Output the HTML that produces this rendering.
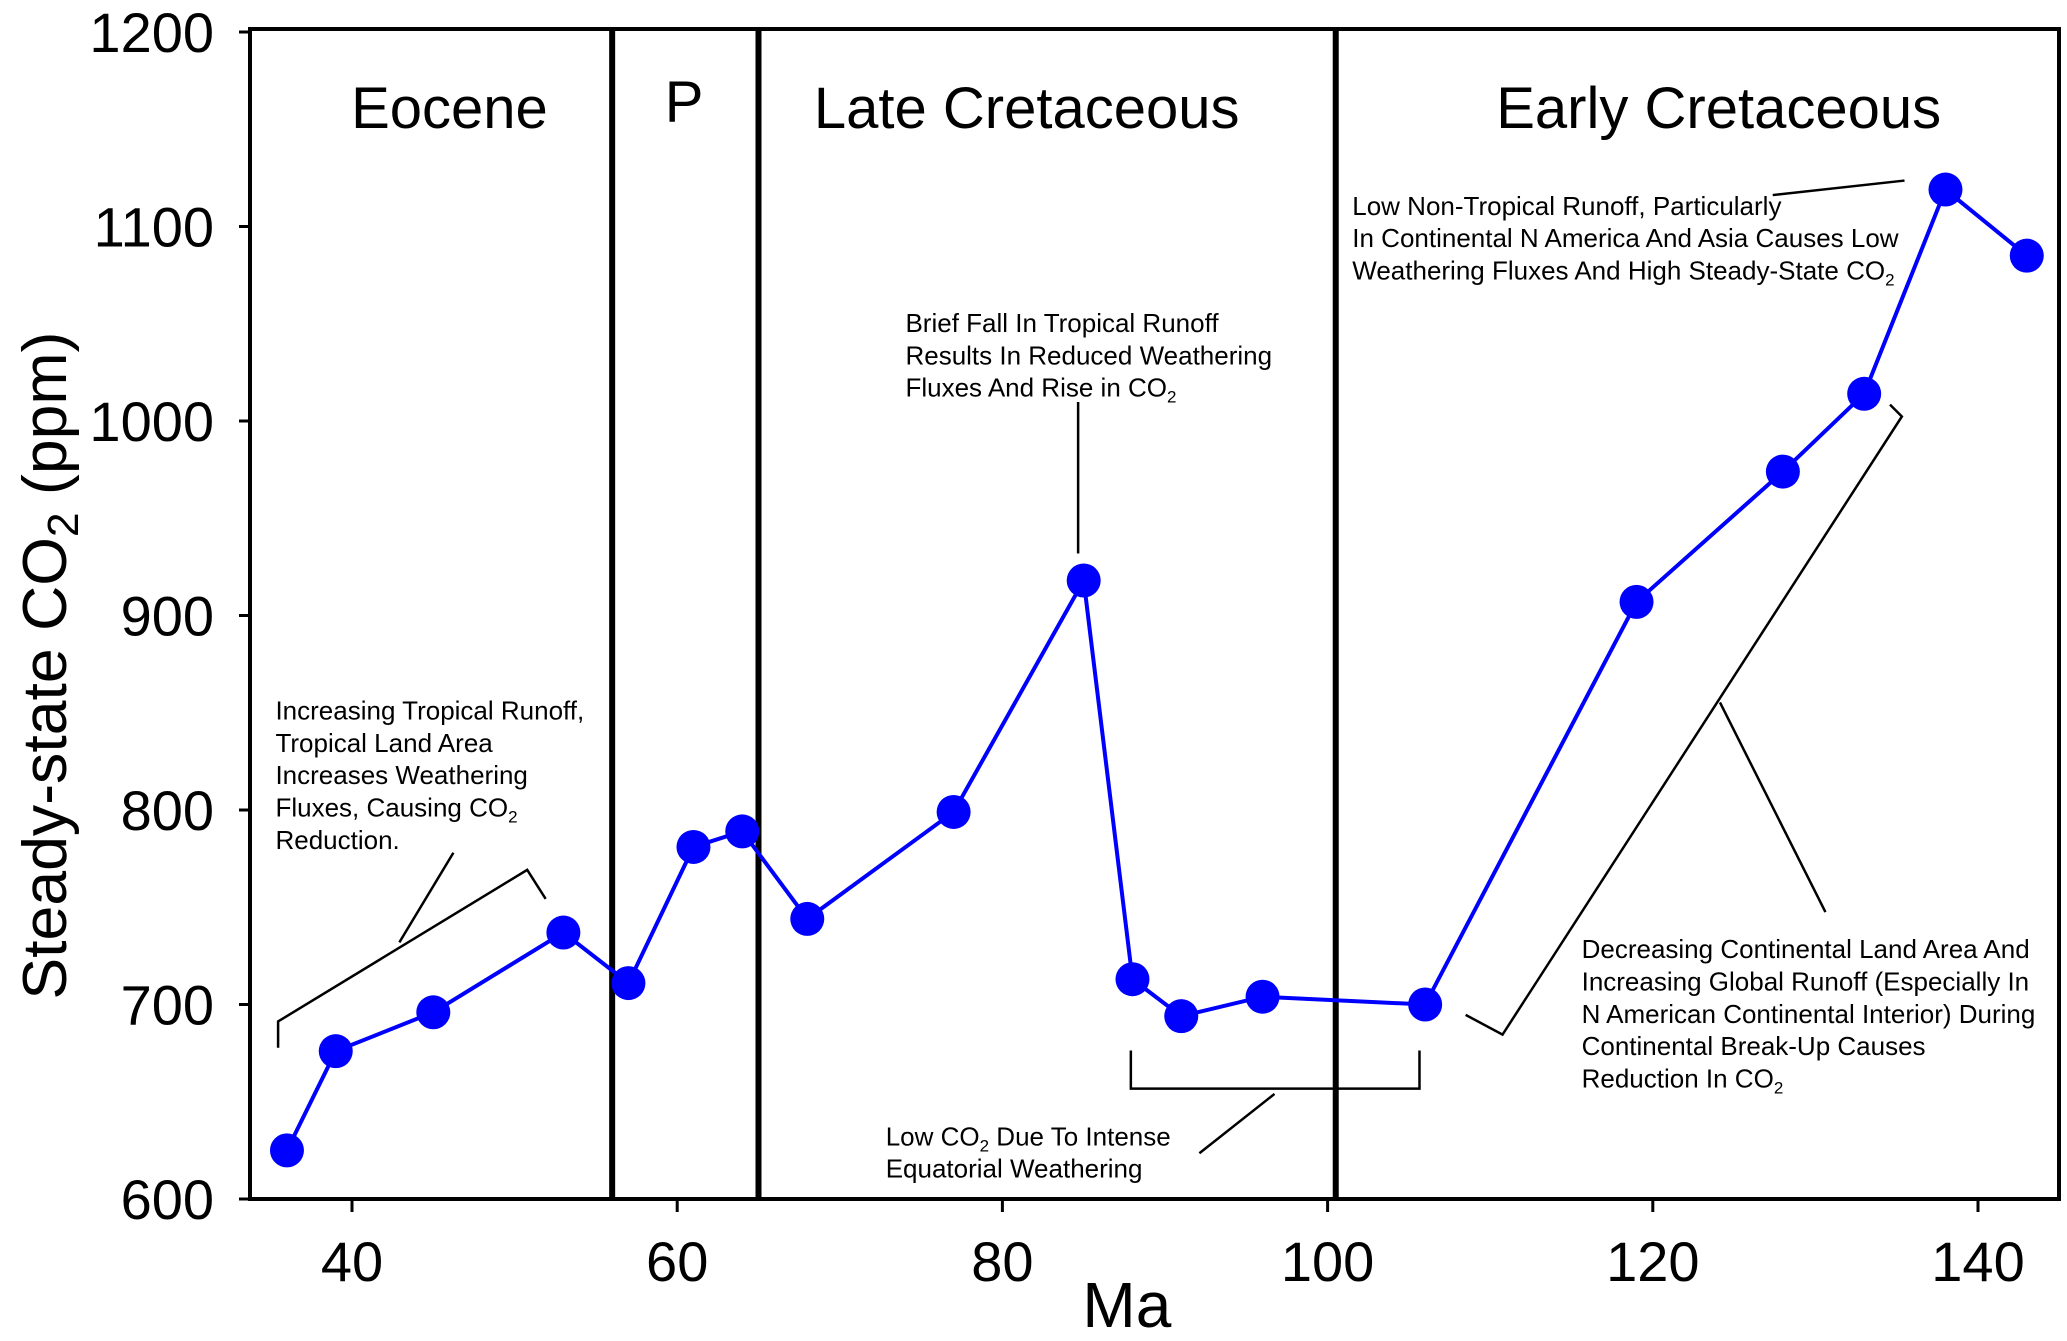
<!DOCTYPE html>
<html><head><meta charset="utf-8"><style>
html,body{margin:0;padding:0;background:#fff;}
svg{display:block;font-family:"Liberation Sans",sans-serif;}
</style></head><body>
<svg id="chart" width="2067" height="1341" viewBox="0 0 2067 1341" xmlns="http://www.w3.org/2000/svg"></svg>
<script>
const ages = [36,39,45,53,57,61,64,68,77,85,88,91,96,106,119,128,133,138,143];
const co2 = [625,676,696,737,711,781,789,744,799,918,713,694,704,700,907,974,1014,1119,1085];
const xTicks = [40,60,80,100,120,140];
const yTicks = [600,700,800,900,1000,1100,1200];
const boundaries = [56,65,100.5];
const periods = ["Eocene","P","Late Cretaceous","Early Cretaceous"];

const NS="http://www.w3.org/2000/svg";
const svg=document.getElementById('chart');
const L=250,R=2059,T=29,B=1199;
const x=v=>352+(v-40)*16.26;
const y=v=>1199-(v-600)*1.945;
const S=1.318;
function el(tag,attrs,parent){const e=document.createElementNS(NS,tag);for(const k in attrs)e.setAttribute(k,attrs[k]);(parent||svg).appendChild(e);return e;}

const frame=el('rect',{x:L,y:T,width:R-L,height:B-T,fill:'none',stroke:'#000','stroke-width':4});



boundaries.forEach(b=>{
  const l=el('line',{x1:x(b),x2:x(b),y1:T,y2:B,stroke:'#000','stroke-width':6});
  
  
});

yTicks.forEach(t=>{
  const l=el('line',{x1:L-11,x2:L,y1:y(t),y2:y(t),stroke:'#000','stroke-width':3});
  
  
  const tx=el('text',{x:214,y:y(t)+20,'text-anchor':'end','font-size':56});
  tx.textContent=t;
  
  
});
xTicks.forEach(t=>{
  const l=el('line',{x1:x(t),x2:x(t),y1:B,y2:B+13,stroke:'#000','stroke-width':3});
  
  
  const tx=el('text',{x:x(t),y:1281,'text-anchor':'middle','font-size':56});
  tx.textContent=t;
  
  
});

const xt=el('text',{x:855*S,y:1327,'text-anchor':'middle','font-size':64});
xt.textContent='Ma';


const yt=el('text',{x:0,y:0,'text-anchor':'middle','font-size':62,transform:`translate(${35*S+20},${505*S}) rotate(-90)`,textLength:668,lengthAdjust:'spacingAndGlyphs'});
yt.innerHTML='Steady-state CO<tspan font-size="44" baseline-shift="-12">2</tspan> (ppm)';



const pc=[[341,97],[519,92],[779,97],[1304,97]];
periods.forEach((p,i)=>{
  const t=el('text',{x:pc[i][0]*S,y:pc[i][1]*S,'text-anchor':'middle','font-size':58});
  t.textContent=p;
  
  
});

const pts=ages.map((a,i)=>x(a)+','+y(co2[i])).join(' ');
const pl=el('polyline',{points:pts,fill:'none',stroke:'#0000ff','stroke-width':4});


ages.forEach((a,i)=>{
  const c=el('circle',{cx:x(a),cy:y(co2[i]),r:17,fill:'#0000ff'});
  
  
});

function pline(arr,name){
  const p=el('polyline',{points:arr.map(q=>q[0]*S+','+q[1]*S).join(' '),fill:'none',stroke:'#000','stroke-width':2.5});
  
  
}
function note(xd,yd,lines,name){
  const g=el('g',{});
  
  
  lines.forEach((ln,i)=>{
    const t=el('text',{x:xd*S,y:(yd+i*24.5)*S,'font-size':26},g);
    t.innerHTML=ln;
  });
}
const sub='<tspan font-size="17" baseline-shift="-6">2</tspan>';
pline([[211,795],[211,775],[400,660],[414,682]],'bracket-eocene');
pline([[303,715],[344,647]],'pointer-eocene');
note(209,546,['Increasing Tropical Runoff,','Tropical Land Area','Increases Weathering','Fluxes, Causing CO'+sub,'Reduction.'],'annotation-eocene');
pline([[818,305],[818,420]],'pointer-peak');
note(687,252,['Brief Fall In Tropical Runoff','Results In Reduced Weathering','Fluxes And Rise in CO'+sub],'annotation-peak');
pline([[1345,148],[1445,137]],'pointer-max');
note(1026,163,['Low Non-Tropical Runoff, Particularly','In Continental N America And Asia Causes Low','Weathering Fluxes And High Steady-State CO'+sub],'annotation-max');
pline([[858,797],[858,826],[1077,826],[1077,797]],'bracket-low');
pline([[967,830],[910,875]],'pointer-low');
note(672,869,['Low CO'+sub+' Due To Intense','Equatorial Weathering'],'annotation-low');
pline([[1112,770],[1140,785],[1443,316],[1434,307]],'bracket-early-cretaceous');
pline([[1305,533],[1385,692]],'pointer-early-cretaceous');
note(1200,727,['Decreasing Continental Land Area And','Increasing Global Runoff (Especially In','N American Continental Interior) During','Continental Break-Up Causes','Reduction In CO'+sub],'annotation-early-cretaceous');
</script>
</body></html>
